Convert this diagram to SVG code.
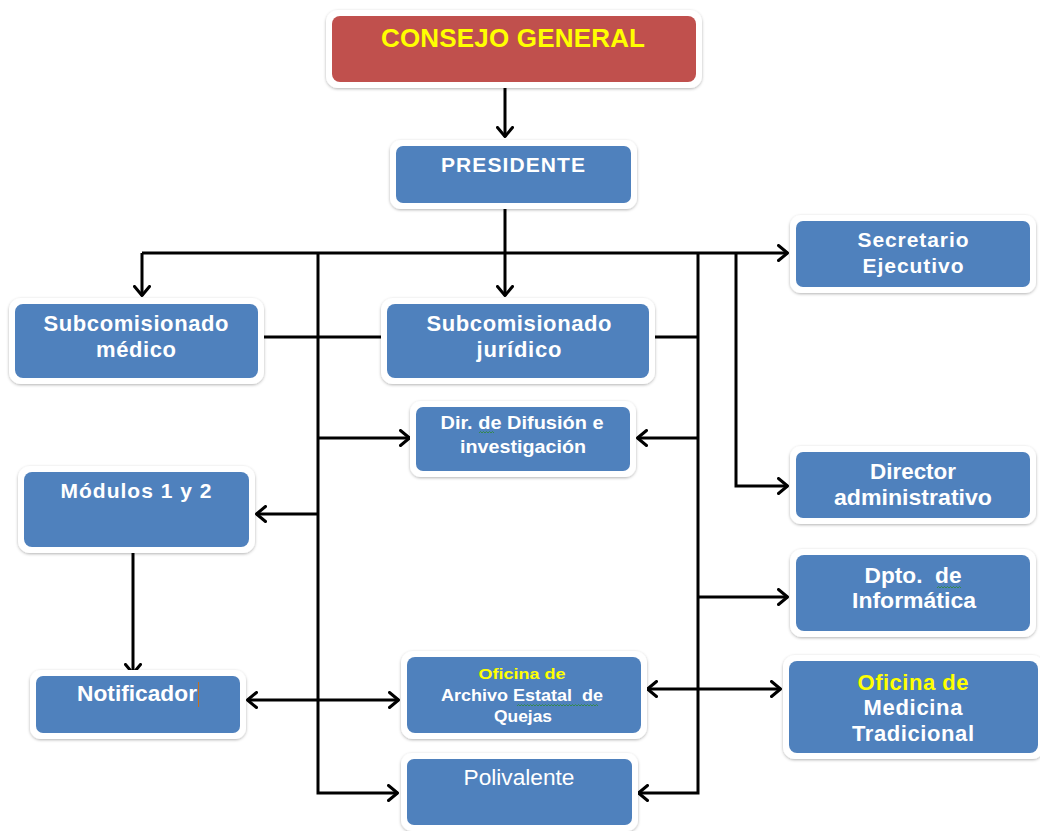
<svg xmlns="http://www.w3.org/2000/svg" width="1040" height="831" viewBox="0 0 1040 831">
<defs>
<filter id="sh" x="-10%" y="-20%" width="120%" height="140%">
<feDropShadow dx="0" dy="1" stdDeviation="1.6" flood-color="#000" flood-opacity="0.3"/>
</filter>
<marker id="ar" viewBox="0 0 12 18" refX="11" refY="9" markerWidth="12" markerHeight="18" markerUnits="userSpaceOnUse" orient="auto-start-reverse">
<path d="M1.5,1.5 L10.5,9 L1.5,16.5" fill="none" stroke="#000" stroke-width="3" stroke-linecap="round" stroke-linejoin="round"/>
</marker>
<style>
.frame{fill:#fff;filter:url(#sh)}
.blue{fill:#4F81BD}
.red{fill:#C0504D}
.t{font-family:"Liberation Sans",Arial,sans-serif;font-weight:bold;fill:#fff;text-anchor:middle}
.n{font-family:"Liberation Sans",Arial,sans-serif;font-weight:bold;fill:#fff;text-anchor:middle}
.y{fill:#FFFF00}
.c{fill:none;stroke:#000;stroke-width:3}
.w{fill:none;stroke:#2E8B2E;stroke-width:0.8}
</style>
</defs>

<g id="connectors">
<path class="c" d="M505,88 V137" marker-end="url(#ar)"/>
<path class="c" d="M505,203 V296" marker-end="url(#ar)"/>
<path class="c" d="M142,253 H788" marker-end="url(#ar)"/>
<path class="c" d="M142,253 V296" marker-end="url(#ar)"/>
<path class="c" d="M318,253 V793 H398" marker-end="url(#ar)"/>
<path class="c" d="M698,253 V793 H638" marker-end="url(#ar)"/>
<path class="c" d="M736,253 V486 H788" marker-end="url(#ar)"/>
<path class="c" d="M263,337 H381"/>
<path class="c" d="M653,337 H698"/>
<path class="c" d="M318,438 H410" marker-end="url(#ar)"/>
<path class="c" d="M698,438 H637" marker-end="url(#ar)"/>
<path class="c" d="M318,514 H256" marker-end="url(#ar)"/>
<path class="c" d="M133,546 V674" marker-end="url(#ar)"/>
<path class="c" d="M698,597 H788" marker-end="url(#ar)"/>
<path class="c" d="M247,700 H399" marker-start="url(#ar)" marker-end="url(#ar)"/>
<path class="c" d="M647,689 H781" marker-start="url(#ar)" marker-end="url(#ar)"/>
</g>

<g id="consejo">
<rect class="frame" x="326" y="10" width="376" height="78" rx="12"/>
<rect class="red" x="332" y="16" width="364" height="66" rx="8"/>
<text class="t y" x="513" y="47" font-size="26" textLength="264" lengthAdjust="spacing">CONSEJO GENERAL</text>
</g>

<g id="presidente">
<rect class="frame" x="390" y="140" width="247" height="69" rx="11"/>
<rect class="blue" x="396" y="146" width="235" height="57" rx="7"/>
<text class="t" x="513" y="172" font-size="21" textLength="144" lengthAdjust="spacing">PRESIDENTE</text>
</g>

<g id="secretario">
<rect class="frame" x="790" y="215" width="246" height="78" rx="11"/>
<rect class="blue" x="796" y="221" width="234" height="66" rx="7"/>
<text class="t" x="913" y="247" font-size="21" textLength="111" lengthAdjust="spacing">Secretario</text>
<text class="t" x="913" y="273" font-size="21" textLength="101" lengthAdjust="spacing">Ejecutivo</text>
</g>

<g id="sub-medico">
<rect class="frame" x="9" y="298" width="255" height="86" rx="12"/>
<rect class="blue" x="15" y="304" width="243" height="74" rx="8"/>
<text class="t" x="136" y="331" font-size="22" textLength="185" lengthAdjust="spacing">Subcomisionado</text>
<text class="t" x="136" y="357" font-size="22" textLength="80" lengthAdjust="spacing">médico</text>
</g>

<g id="sub-juridico">
<rect class="frame" x="381" y="298" width="274" height="86" rx="12"/>
<rect class="blue" x="387" y="304" width="262" height="74" rx="8"/>
<text class="t" x="519" y="331" font-size="22" textLength="185" lengthAdjust="spacing">Subcomisionado</text>
<text class="t" x="519" y="357" font-size="22" textLength="85" lengthAdjust="spacing">jurídico</text>
</g>

<g id="dir-difusion">
<rect class="frame" x="410" y="401" width="226" height="76" rx="11"/>
<rect class="blue" x="416" y="407" width="214" height="64" rx="7"/>
<text class="n" x="522" y="429" font-size="19" textLength="163" lengthAdjust="spacingAndGlyphs">Dir. de Difusión e</text>
<text class="n" x="523" y="453" font-size="19" textLength="126" lengthAdjust="spacingAndGlyphs">investigación</text>
<path class="w" d="M479,433 l1.5,-1.5 1.5,1.5 1.5,-1.5 1.5,1.5 1.5,-1.5 1.5,1.5 1.5,-1.5 1.5,1.5 1.5,-1.5 1.5,1.5"/>
</g>

<g id="modulos">
<rect class="frame" x="18" y="466" width="237" height="87" rx="12"/>
<rect class="blue" x="24" y="472" width="225" height="75" rx="8"/>
<text class="t" x="136" y="498" font-size="21" textLength="151" lengthAdjust="spacing">Módulos 1 y 2</text>
</g>

<g id="director">
<rect class="frame" x="790" y="446" width="246" height="78" rx="11"/>
<rect class="blue" x="796" y="452" width="234" height="66" rx="7"/>
<text class="n" x="913" y="479" font-size="22" textLength="86" lengthAdjust="spacingAndGlyphs">Director</text>
<text class="n" x="913" y="505" font-size="22" textLength="158" lengthAdjust="spacingAndGlyphs">administrativo</text>
</g>

<g id="dpto">
<rect class="frame" x="790" y="549" width="246" height="88" rx="12"/>
<rect class="blue" x="796" y="555" width="234" height="76" rx="8"/>
<text class="n" x="913" y="583" font-size="22" textLength="97" lengthAdjust="spacingAndGlyphs" xml:space="preserve">Dpto.  de</text>
<text class="n" x="914" y="608" font-size="22" textLength="124" lengthAdjust="spacingAndGlyphs">Informática</text>
<path class="w" d="M937,588 l1.5,-1.5 1.5,1.5 1.5,-1.5 1.5,1.5 1.5,-1.5 1.5,1.5 1.5,-1.5 1.5,1.5 1.5,-1.5 1.5,1.5 1.5,-1.5 1.5,1.5 1.5,-1.5 1.5,1.5 1.5,-1.5 1.5,1.5"/>
</g>

<g id="notificador">
<rect class="frame" x="30" y="670" width="216" height="69" rx="11"/>
<rect class="blue" x="36" y="676" width="204" height="57" rx="7"/>
<text class="n" x="137" y="701" font-size="22" textLength="120" lengthAdjust="spacingAndGlyphs">Notificador</text>
<line x1="198.5" y1="682" x2="198.5" y2="707" stroke="#C07020" stroke-width="1"/>
</g>

<g id="archivo">
<rect class="frame" x="401" y="651" width="246" height="88" rx="12"/>
<rect class="blue" x="407" y="657" width="234" height="76" rx="8"/>
<text class="n y" x="522" y="679" font-size="15" textLength="87" lengthAdjust="spacingAndGlyphs">Oficina de</text>
<text class="n" x="522" y="701" font-size="17" textLength="162" lengthAdjust="spacingAndGlyphs" xml:space="preserve">Archivo Estatal  de</text>
<text class="n" x="523" y="722" font-size="17" textLength="58" lengthAdjust="spacingAndGlyphs">Quejas</text>
<path class="w" d="M517,706 l1.5,-1.5 1.5,1.5 1.5,-1.5 1.5,1.5 1.5,-1.5 1.5,1.5 1.5,-1.5 1.5,1.5 1.5,-1.5 1.5,1.5 1.5,-1.5 1.5,1.5 1.5,-1.5 1.5,1.5 1.5,-1.5 1.5,1.5 1.5,-1.5 1.5,1.5 1.5,-1.5 1.5,1.5 1.5,-1.5 1.5,1.5 1.5,-1.5 1.5,1.5 1.5,-1.5 1.5,1.5 1.5,-1.5 1.5,1.5 1.5,-1.5 1.5,1.5 1.5,-1.5 1.5,1.5 1.5,-1.5 1.5,1.5 1.5,-1.5 1.5,1.5 1.5,-1.5 1.5,1.5 1.5,-1.5 1.5,1.5 1.5,-1.5 1.5,1.5 1.5,-1.5 1.5,1.5 1.5,-1.5 1.5,1.5 1.5,-1.5 1.5,1.5 1.5,-1.5 1.5,1.5 1.5,-1.5 1.5,1.5 1.5,-1.5 1.5,1.5"/>
</g>

<g id="medicina">
<rect class="frame" x="783" y="655" width="261" height="104" rx="12"/>
<rect class="blue" x="789" y="661" width="249" height="92" rx="8"/>
<text class="t y" x="913" y="690" font-size="22" textLength="111" lengthAdjust="spacing">Oficina de</text>
<text class="t" x="913" y="715" font-size="22" textLength="99" lengthAdjust="spacing">Medicina</text>
<text class="t" x="913" y="741" font-size="22" textLength="122" lengthAdjust="spacing">Tradicional</text>
</g>

<g id="polivalente">
<rect class="frame" x="401" y="753" width="237" height="78" rx="11"/>
<rect class="blue" x="407" y="759" width="225" height="66" rx="7"/>
<text x="519" y="785" font-family="'Liberation Sans',Arial,sans-serif" font-size="22" fill="#fff" text-anchor="middle" textLength="111" lengthAdjust="spacingAndGlyphs">Polivalente</text>
</g>
</svg>
